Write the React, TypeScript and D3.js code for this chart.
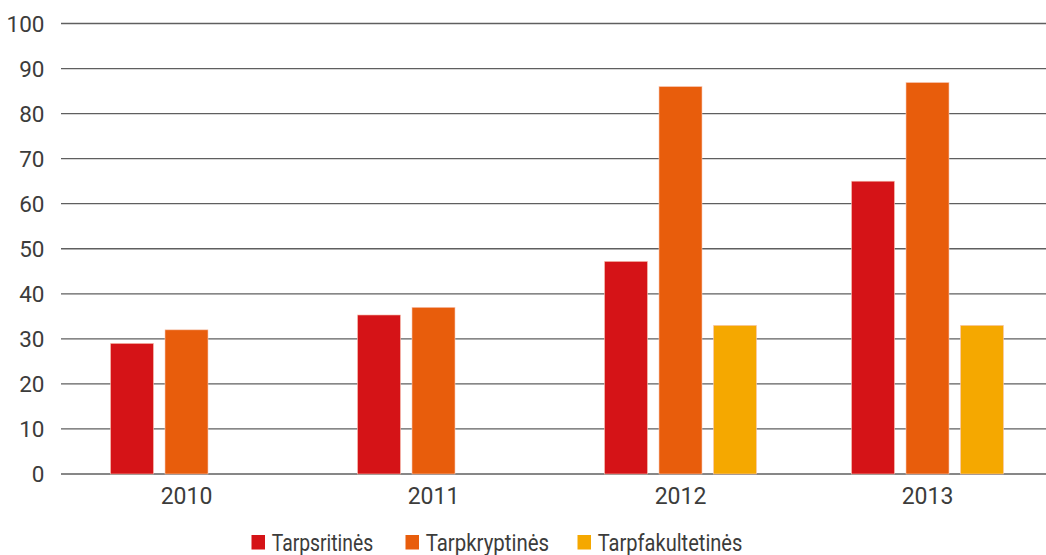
import React from "react";
import * as d3 from "d3";

const years = ["2010", "2011", "2012", "2013"];
const seriesNames = ["Tarpsritinės", "Tarpkryptinės", "Tarpfakultetinės"];
const tarpsritines = [29, 35.3, 47.2, 65];
const tarpkryptines = [32, 37, 86, 86.9];
const tarpfakultetines = [null, null, 33, 33];
const yTicks = [0, 10, 20, 30, 40, 50, 60, 70, 80, 90, 100];
const colors = ["#d51317", "#e85d0c", "#f5a800"];

const W = 1046;
const H = 555;
const FONT = "Roboto, 'Open Sans', sans-serif";
const TEXT = "#3c3c3b";

export default function App() {
  const seriesValues = [tarpsritines, tarpkryptines, tarpfakultetines];
  const y = d3.scaleLinear().domain([0, 100]).range([474, 23.5]);
  const x0 = d3.scaleBand().domain(years).range([63, 1051]).padding(0);
  const slot = 54.5;
  const x1 = d3
    .scaleBand()
    .domain(seriesNames)
    .range([-(3 * slot) / 2, (3 * slot) / 2])
    .paddingInner(11.5 / slot)
    .paddingOuter(11.5 / slot / 2);

  const legendX = [251.5, 405.5, 577.5];
  const legendW = [101.5, 123.3, 144.7];

  return (
    <svg
      width={W}
      height={H}
      style={{ position: "absolute", left: 0, top: 0, background: "#fff" }}
      fontFamily={FONT}
    >
      {yTicks.map((t) => (
        <g key={t}>
          <line x1={61} x2={W} y1={y(t)} y2={y(t)} stroke="#5f5f5f" strokeWidth={1.3} />
          <text
            x={44.5}
            y={y(t) + 8}
            textAnchor="end"
            fontSize={22.5}
            fill={TEXT}
          >
            {t}
          </text>
        </g>
      ))}
      {years.map((yr, i) => {
        const cx = (x0(yr) as number) + x0.bandwidth() / 2;
        return (
          <g key={yr}>
            {seriesNames.map((s, j) => {
              const v = seriesValues[j][i];
              if (v == null) return null;
              return (
                <rect
                  key={s}
                  x={cx + (x1(s) as number)}
                  y={y(v)}
                  width={x1.bandwidth()}
                  height={y(0) - y(v)}
                  fill={colors[j]}
                  stroke="#f7c9b8"
                  strokeWidth={0.6}
                />
              );
            })}
            <text
              x={cx}
              y={504}
              textAnchor="middle"
              fontSize={23}
              fill={TEXT}
            >
              {yr}
            </text>
          </g>
        );
      })}
      {seriesNames.map((s, j) => (
        <g key={s}>
          <rect x={legendX[j]} y={535} width={13.5} height={14.5} fill={colors[j]} />
          <text
            x={legendX[j] + 20.2}
            y={550.5}
            fontSize={24.5}
            fill={TEXT}
            textLength={legendW[j]}
            lengthAdjust="spacingAndGlyphs"
          >
            {s}
          </text>
        </g>
      ))}
    </svg>
  );
}
